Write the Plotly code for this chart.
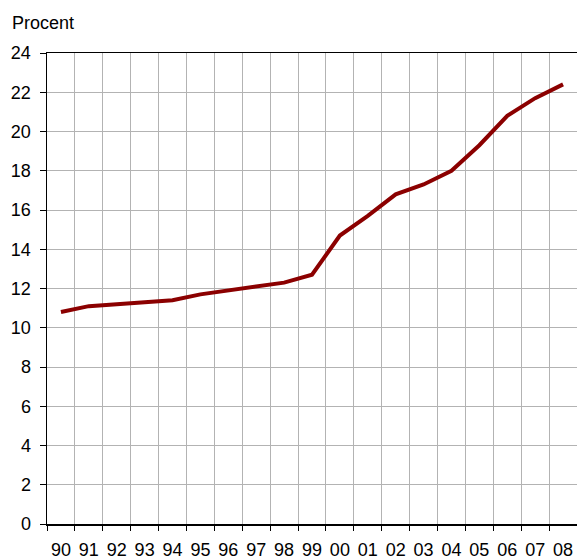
import plotly.graph_objects as go

years = ["90", "91", "92", "93", "94", "95", "96", "97", "98", "99",
         "00", "01", "02", "03", "04", "05", "06", "07", "08"]
values = [10.8, 11.1, 11.2, 11.3, 11.4, 11.7, 11.9, 12.1, 12.3, 12.7,
          14.7, 15.7, 16.8, 17.3, 18.0, 19.3, 20.8, 21.7, 22.4]
y_ticks = list(range(0, 25, 2))

W, H = 577, 560
L, R, T, B = 47, 0, 53, 36
PW, PH = W - L - R, H - T - B

fig = go.Figure()
fig.add_trace(go.Scatter(x=years, y=values, mode="lines",
                         line=dict(color="#8b0000", width=4), showlegend=False))

fig.update_layout(
    width=W, height=H,
    margin=dict(l=L, r=R, t=T, b=B, pad=0),
    paper_bgcolor="white", plot_bgcolor="white",
    font=dict(family="Liberation Sans, Arial, sans-serif", size=18, color="black"),
    xaxis=dict(type="category", tickson="boundaries", range=[-0.5, 18.5],
               showgrid=True, gridcolor="#b3b3b3", gridwidth=1,
               showline=True, linecolor="black", linewidth=1.5, mirror=True,
               ticks="outside", ticklen=5, tickcolor="black",
               tickangle=0, automargin=False,
               ticklabelstandoff=9, tickfont=dict(size=18)),
    yaxis=dict(range=[0, 24], tickvals=y_ticks,
               showgrid=True, gridcolor="#b3b3b3", gridwidth=1,
               showline=True, linecolor="black", linewidth=1.5,
               ticks="outside", ticklen=6, tickcolor="black",
               ticklabelstandoff=5, automargin=False,
               zeroline=False, tickfont=dict(size=18)),
    annotations=[dict(text="Procent", xref="paper", yref="paper",
                      x=(10 - L) / PW, y=1 + (T - 23) / PH,
                      xanchor="left", yanchor="middle",
                      showarrow=False, font=dict(size=18))],
)

fig.write_html("out.html",
               config={"displayModeBar": False, "staticPlot": True},
               post_script="document.body.style.margin='0';"
                           "document.documentElement.style.overflow='hidden';")
